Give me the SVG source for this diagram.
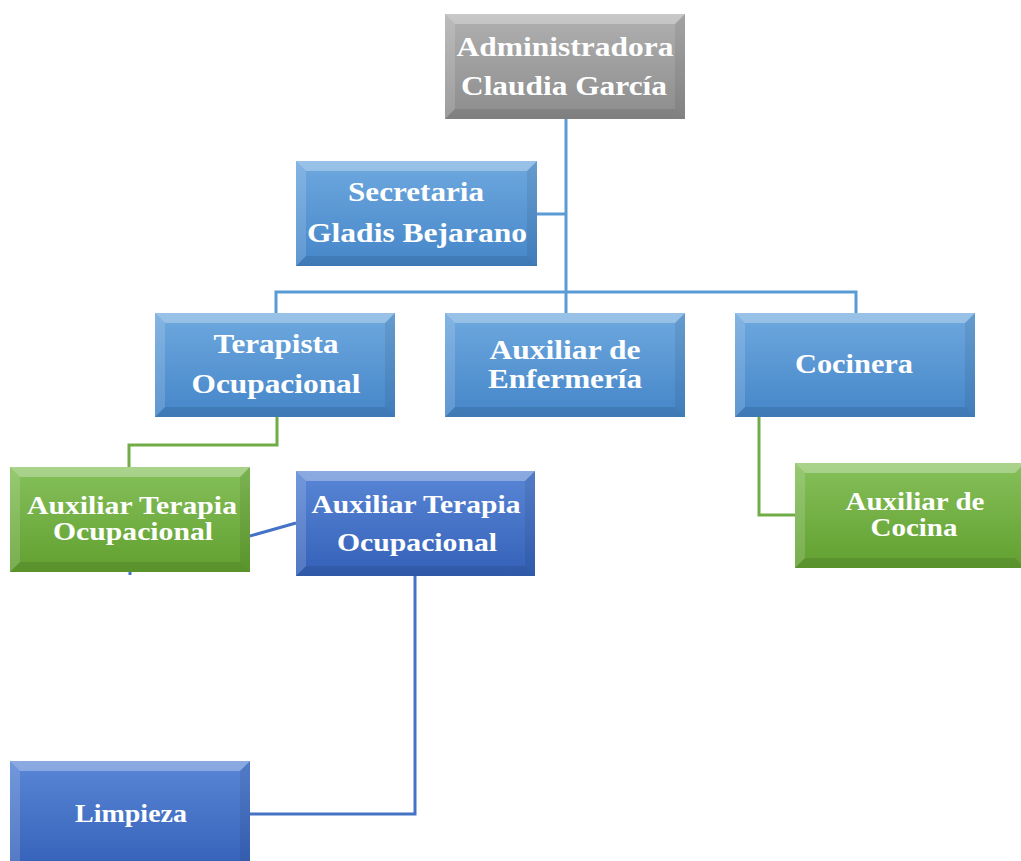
<svg xmlns="http://www.w3.org/2000/svg" width="1021" height="861" viewBox="0 0 1021 861">
<style>
  .t{font-family:"Liberation Serif","Times New Roman",serif;font-weight:bold;fill:#ffffff;font-size:28px;text-anchor:middle}
  .s{font-size:25px}
  .hl{fill:#ffffff;fill-opacity:0.3}
  .hl2{fill:#ffffff;fill-opacity:0.15}
  .sh{fill:#000000;fill-opacity:0.07}
  .sh2{fill:#000000;fill-opacity:0.09}
  .cb{fill:none;stroke:#5b9bd5;stroke-width:3}
  .cg{fill:none;stroke:#70ad47;stroke-width:3}
  .cd{fill:none;stroke:#4472c4;stroke-width:3}
</style>
<defs>
  <linearGradient id="gGray" x1="0" y1="0" x2="0" y2="1"><stop offset="0" stop-color="#b0b0b0"/><stop offset="1" stop-color="#8c8c8c"/></linearGradient>
  <linearGradient id="gBlue" x1="0" y1="0" x2="0" y2="1"><stop offset="0" stop-color="#6ea8de"/><stop offset="1" stop-color="#4586c9"/></linearGradient>
  <linearGradient id="gDark" x1="0" y1="0" x2="0" y2="1"><stop offset="0" stop-color="#5a86d6"/><stop offset="1" stop-color="#3461b8"/></linearGradient>
  <linearGradient id="gGreen" x1="0" y1="0" x2="0" y2="1"><stop offset="0" stop-color="#85c05a"/><stop offset="1" stop-color="#62a030"/></linearGradient>
</defs>
<rect width="1021" height="861" fill="#ffffff"/>

<g id="connectors">
  <polyline class="cb" points="566,119 566,293"/>
  <polyline class="cb" points="537,214 566,214"/>
  <polyline class="cb" points="276,313 276,292 856,292 856,313"/>
  <polyline class="cb" points="566,292 566,313"/>
  <polyline class="cg" points="277,417 277,445 129,445 129,467"/>
  <polyline class="cg" points="759,417 759,515 795,515"/>
  <line class="cd" x1="250" y1="536" x2="296" y2="523"/>
  <line class="cd" x1="130" y1="572" x2="130" y2="575"/>
  <polyline class="cd" points="415,576 415,814 250,814"/>
</g>

<g id="n-admin">
  <rect x="445" y="14" width="240" height="105" fill="url(#gGray)"/>
  <polygon class="hl" points="445,14 685,14 675,24 455,24"/>
  <polygon class="hl2" points="445,14 455,24 455,109 445,119"/>
  <polygon class="sh" points="685,14 685,119 675,109 675,24"/>
  <polygon class="sh2" points="445,119 685,119 675,109 455,109"/>
  <text class="t" x="565" y="56" textLength="217" lengthAdjust="spacingAndGlyphs">Administradora</text>
  <text class="t" x="564" y="95" textLength="206" lengthAdjust="spacingAndGlyphs">Claudia García</text>
</g>

<g id="n-secretaria">
  <rect x="296" y="161" width="241" height="105" fill="url(#gBlue)"/>
  <polygon class="hl" points="296,161 537,161 527,171 306,171"/>
  <polygon class="hl2" points="296,161 306,171 306,256 296,266"/>
  <polygon class="sh" points="537,161 537,266 527,256 527,171"/>
  <polygon class="sh2" points="296,266 537,266 527,256 306,256"/>
  <text class="t" x="416" y="201" textLength="136" lengthAdjust="spacingAndGlyphs">Secretaria</text>
  <text class="t" x="417" y="242" textLength="220" lengthAdjust="spacingAndGlyphs">Gladis Bejarano</text>
</g>

<g id="n-terapista">
  <rect x="155" y="313" width="240" height="104" fill="url(#gBlue)"/>
  <polygon class="hl" points="155,313 395,313 385,323 165,323"/>
  <polygon class="hl2" points="155,313 165,323 165,407 155,417"/>
  <polygon class="sh" points="395,313 395,417 385,407 385,323"/>
  <polygon class="sh2" points="155,417 395,417 385,407 165,407"/>
  <text class="t" x="276" y="353" textLength="125" lengthAdjust="spacingAndGlyphs">Terapista</text>
  <text class="t" x="276" y="393" textLength="169" lengthAdjust="spacingAndGlyphs">Ocupacional</text>
</g>

<g id="n-enfermeria">
  <rect x="445" y="313" width="240" height="104" fill="url(#gBlue)"/>
  <polygon class="hl" points="445,313 685,313 675,323 455,323"/>
  <polygon class="hl2" points="445,313 455,323 455,407 445,417"/>
  <polygon class="sh" points="685,313 685,417 675,407 675,323"/>
  <polygon class="sh2" points="445,417 685,417 675,407 455,407"/>
  <text class="t" x="565" y="359" textLength="151" lengthAdjust="spacingAndGlyphs">Auxiliar de</text>
  <text class="t" x="565" y="388" textLength="154" lengthAdjust="spacingAndGlyphs">Enfermería</text>
</g>

<g id="n-cocinera">
  <rect x="735" y="313" width="240" height="104" fill="url(#gBlue)"/>
  <polygon class="hl" points="735,313 975,313 965,323 745,323"/>
  <polygon class="hl2" points="735,313 745,323 745,407 735,417"/>
  <polygon class="sh" points="975,313 975,417 965,407 965,323"/>
  <polygon class="sh2" points="735,417 975,417 965,407 745,407"/>
  <text class="t" x="854" y="373" textLength="118" lengthAdjust="spacingAndGlyphs">Cocinera</text>
</g>

<g id="n-aux-terapia-verde">
  <rect x="10" y="467" width="240" height="105" fill="url(#gGreen)"/>
  <polygon class="hl" points="10,467 250,467 240,477 20,477"/>
  <polygon class="hl2" points="10,467 20,477 20,562 10,572"/>
  <polygon class="sh" points="250,467 250,572 240,562 240,477"/>
  <polygon class="sh2" points="10,572 250,572 240,562 20,562"/>
  <text class="t s" x="132" y="514" textLength="210" lengthAdjust="spacingAndGlyphs">Auxiliar Terapia</text>
  <text class="t s" x="133" y="540" textLength="160" lengthAdjust="spacingAndGlyphs">Ocupacional</text>
</g>

<g id="n-aux-terapia-azul">
  <rect x="296" y="471" width="239" height="105" fill="url(#gDark)"/>
  <polygon class="hl" points="296,471 535,471 525,481 306,481"/>
  <polygon class="hl2" points="296,471 306,481 306,566 296,576"/>
  <polygon class="sh" points="535,471 535,576 525,566 525,481"/>
  <polygon class="sh2" points="296,576 535,576 525,566 306,566"/>
  <text class="t s" x="416" y="513" textLength="209" lengthAdjust="spacingAndGlyphs">Auxiliar Terapia</text>
  <text class="t s" x="417" y="551" textLength="160" lengthAdjust="spacingAndGlyphs">Ocupacional</text>
</g>

<g id="n-aux-cocina">
  <rect x="795" y="463" width="230" height="105" fill="url(#gGreen)"/>
  <polygon class="hl" points="795,463 1025,463 1015,473 805,473"/>
  <polygon class="hl2" points="795,463 805,473 805,558 795,568"/>
  <polygon class="sh2" points="795,568 1025,568 1015,558 805,558"/>
  <text class="t s" x="915" y="510" textLength="139" lengthAdjust="spacingAndGlyphs">Auxiliar de</text>
  <text class="t s" x="914" y="536" textLength="87" lengthAdjust="spacingAndGlyphs">Cocina</text>
</g>

<g id="n-limpieza">
  <rect x="10" y="761" width="240" height="110" fill="url(#gDark)"/>
  <polygon class="hl" points="10,761 250,761 240,771 20,771"/>
  <polygon class="hl2" points="10,761 20,771 20,871 10,871"/>
  <polygon class="sh" points="250,761 250,871 240,871 240,771"/>
  <text class="t s" x="131" y="822" textLength="112" lengthAdjust="spacingAndGlyphs">Limpieza</text>
</g>
</svg>
